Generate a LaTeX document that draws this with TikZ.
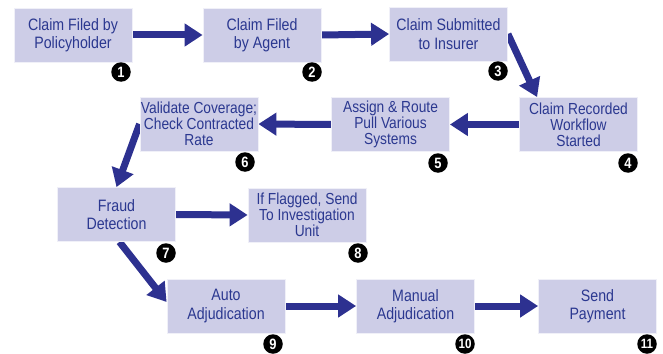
\documentclass[tikz,border=0pt]{standalone}
\usepackage{fontspec}
\setmainfont[FakeStretch=0.86]{Liberation Sans}
\usetikzlibrary{arrows.meta,calc,backgrounds}
\definecolor{boxfill}{HTML}{CDCDE7}
\definecolor{txtblue}{HTML}{2B3890}
\definecolor{arrowblue}{HTML}{2D3190}
\begin{document}
\begin{tikzpicture}[x=1pt,y=-1pt,
  stepbox/.style={fill=boxfill, draw=white!70!boxfill, line width=0.8pt, minimum width=118pt, minimum height=54pt, inner sep=0pt, align=center, text=txtblue, font=\fontsize{16.5}{18.5}\selectfont},
  three/.style={font=\fontsize{16}{15.8}\selectfont},
  flow/.style={draw=arrowblue, line width=7pt, -{Triangle[length=18pt,width=22pt]}},
  badge/.style={circle, fill=black, text=white, minimum size=19.5pt, inner sep=0pt, font=\bfseries\fontsize{15}{15}\selectfont}]
\useasboundingbox (0,0) rectangle (663,353);
\node[stepbox] (b1) at (73,35) {Claim Filed by\\Policyholder};
\node[stepbox] (b2) at (262,35) {Claim Filed\\by Agent};
\node[stepbox] (b3) at (448.5,34) {Claim Submitted\\to Insurer};
\node[stepbox,three] (b4) at (578.5,124.5) {Claim Recorded\\Workflow\\Started};
\node[stepbox,three] (b5) at (390.5,124.5) {Assign \& Route\\Pull Various\\Systems};
\node[stepbox,three] (b6) at (199,124) {Validate Coverage;\\Check Contracted\\Rate};
\node[stepbox] (b7) at (116.5,214.5) {Fraud\\Detection};
\node[stepbox,three] (b8) at (307,215) {If Flagged, Send\\To Investigation\\Unit};
\node[stepbox] (b9) at (226,306) {Auto\\Adjudication};
\node[stepbox] (b10) at (415.5,306) {Manual\\Adjudication};
\node[stepbox] (b11) at (597.5,306) {Send\\Payment};
\node[badge] (n1) at (121,72) {1};
\node[badge] (n2) at (312,72) {2};
\node[badge] (n3) at (498,71) {3};
\node[badge] (n4) at (628,163) {4};
\node[badge] (n5) at (438,163) {5};
\node[badge] (n6) at (245,162) {6};
\node[badge] (n7) at (166,253) {7};
\node[badge] (n8) at (358,253) {8};
\node[badge] (n9) at (273,344) {9};
\node[badge] (n10) at (465,344) {\fontsize{13.5}{13.5}\selectfont 10};
\node[badge] (n11) at (647,344) {\fontsize{13.5}{13.5}\selectfont 11};
\begin{scope}[on background layer]
\draw[flow] (b1.east) -- (b2.west);
\draw[flow] (b2.east) -- (b3.west);
\draw[flow] (b3.east) -- ($(b4.north west)+(18,0)$);
\draw[flow] (b4.west) -- (b5.east);
\draw[flow] (b5.west) -- (b6.east);
\draw[flow] (b6.west) -- (b7.north);
\draw[flow] (b7.east) -- (b8.west);
\draw[flow] ($(b7.south)+(3,0)$) -- ($(b9.west)+(0,-4)$);
\draw[flow] (b9.east) -- (b10.west);
\draw[flow] (b10.east) -- (b11.west);
\end{scope}
\end{tikzpicture}
\end{document}
